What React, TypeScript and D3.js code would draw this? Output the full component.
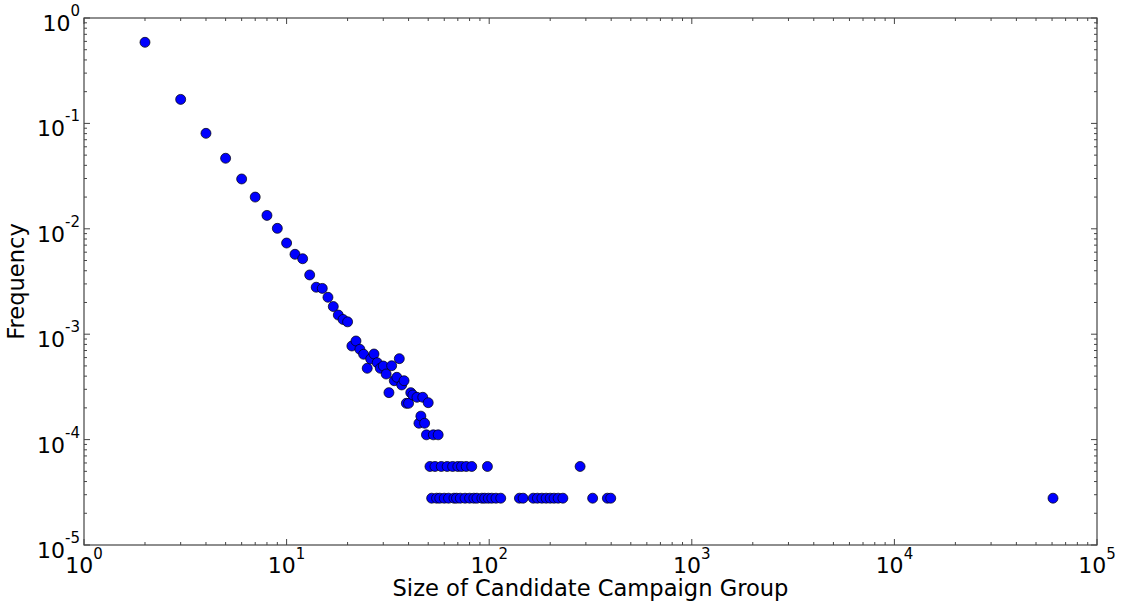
import React from "react";
import * as d3 from "d3";

// Group sizes and their observed frequencies (one entry per size).
const headSizes = [2, 3, 4, 5, 6, 7, 8, 9, 10, 11, 12, 13, 14, 15, 16, 17, 18, 19, 20];
const headFreqs = [
  0.588, 0.169, 0.0805, 0.0467, 0.0297, 0.02, 0.0134, 0.0101, 0.00733, 0.00573,
  0.0052, 0.00365, 0.00279, 0.00272, 0.00224, 0.00183, 0.00152, 0.00138, 0.00131,
];

const midSizes = [
  21, 22, 23, 24, 25, 26, 27, 28, 29, 30, 31, 32, 33, 34, 35, 36, 37, 38, 39, 40,
  41, 42, 44, 45, 46, 47, 48, 50,
];
const midFreqs = [
  7.73e-4, 8.62e-4, 7.19e-4, 6.45e-4, 4.75e-4, 5.82e-4, 6.49e-4, 5.37e-4, 4.75e-4,
  4.99e-4, 4.19e-4, 2.79e-4, 5.02e-4, 3.62e-4, 3.9e-4, 5.86e-4, 3.3e-4, 3.62e-4,
  2.21e-4, 2.21e-4, 2.79e-4, 2.65e-4, 2.52e-4, 1.43e-4, 1.67e-4, 2.52e-4, 1.43e-4,
  2.24e-4,
];

// Sizes seen four, two and one time.
const fourSizes = [49, 53, 56];
const fourFreq = 1.11e-4;
const twoSizes = [51, 54, 58, 62, 66, 70, 73, 77, 82, 98, 281];
const twoFreq = 5.56e-5;
const oneSizes = [
  52, 55, 57, 60, 63, 67, 69, 72, 76, 80, 84, 87, 92, 95, 99, 103, 108, 114, 141,
  147, 165, 173, 182, 191, 200, 209, 219, 231, 324, 383, 398, 60650,
];
const oneFreq = 2.78e-5;

const xDecades = [0, 1, 2, 3, 4, 5];
const yDecades = [0, -1, -2, -3, -4, -5];

const W = 1121;
const H = 603;
const left = 84;
const right = 1097;
const top = 18;
const bottom = 545;

export default function App() {
  const x = d3.scaleLog().domain([1, 1e5]).range([left, right]);
  const y = d3.scaleLog().domain([1e-5, 1]).range([bottom, top]);

  const points: { s: number; f: number }[] = [
    ...headSizes.map((s, i) => ({ s, f: headFreqs[i] })),
    ...midSizes.map((s, i) => ({ s, f: midFreqs[i] })),
    ...fourSizes.map((s) => ({ s, f: fourFreq })),
    ...twoSizes.map((s) => ({ s, f: twoFreq })),
    ...oneSizes.map((s) => ({ s, f: oneFreq })),
  ];

  // Minor tick values within each decade
  const minorX: number[] = [];
  for (let e = 0; e < 5; e++) for (let m = 2; m <= 9; m++) minorX.push(m * Math.pow(10, e));
  const minorY: number[] = [];
  for (let e = -5; e < 0; e++) for (let m = 2; m <= 9; m++) minorY.push(m * Math.pow(10, e));

  const major = 6;
  const minor = 3;
  const tickColor = "#444";
  const font = "DejaVu Sans, sans-serif";

  return (
    <svg
      width={W}
      height={H}
      style={{ position: "absolute", left: 0, top: 0, background: "#fff" }}
      fontFamily={font}
    >
      <rect x={0} y={0} width={W} height={H} fill="#fff" />

      {/* ticks on all four sides, pointing inward */}
      <g stroke={tickColor} strokeWidth={1}>
        {xDecades.map((e) => {
          const px = x(Math.pow(10, e));
          return (
            <g key={"xM" + e}>
              <line x1={px} x2={px} y1={bottom} y2={bottom - major} />
              <line x1={px} x2={px} y1={top} y2={top + major} />
            </g>
          );
        })}
        {minorX.map((v) => {
          const px = x(v);
          return (
            <g key={"xm" + v}>
              <line x1={px} x2={px} y1={bottom} y2={bottom - minor} />
              <line x1={px} x2={px} y1={top} y2={top + minor} />
            </g>
          );
        })}
        {yDecades.map((e) => {
          const py = y(Math.pow(10, e));
          return (
            <g key={"yM" + e}>
              <line x1={left} x2={left + major} y1={py} y2={py} />
              <line x1={right} x2={right - major} y1={py} y2={py} />
            </g>
          );
        })}
        {minorY.map((v) => {
          const py = y(v);
          return (
            <g key={"ym" + v}>
              <line x1={left} x2={left + minor} y1={py} y2={py} />
              <line x1={right} x2={right - minor} y1={py} y2={py} />
            </g>
          );
        })}
      </g>

      {/* scatter points */}
      <g>
        {points.map((p, i) => (
          <circle
            key={i}
            cx={x(p.s)}
            cy={y(p.f)}
            r={5}
            fill="#0000ff"
            stroke="#000"
            strokeWidth={0.7}
          />
        ))}
      </g>

      {/* frame */}
      <rect
        x={left}
        y={top}
        width={right - left}
        height={bottom - top}
        fill="none"
        stroke={tickColor}
        strokeWidth={1.2}
      />

      {/* x tick labels */}
      <g fontSize={22} fill="#000">
        {xDecades.map((e) => (
          <text key={"xl" + e} x={x(Math.pow(10, e))} y={bottom + 28} textAnchor="middle">
            10
            <tspan dy={-14} fontSize={15}>
              {e}
            </tspan>
          </text>
        ))}
      </g>

      {/* y tick labels */}
      <g fontSize={22} fill="#000">
        {yDecades.map((e) => (
          <text key={"yl" + e} x={80} y={y(Math.pow(10, e)) + 13} textAnchor="end">
            10
            <tspan dy={-15} fontSize={15}>
              {e}
            </tspan>
          </text>
        ))}
      </g>

      {/* axis titles */}
      <text x={(left + right) / 2} y={596} textAnchor="middle" fontSize={22.6} fill="#000">
        Size of Candidate Campaign Group
      </text>
      <text
        transform={`translate(24,${(top + bottom) / 2}) rotate(-90)`}
        textAnchor="middle"
        fontSize={22.6}
        fill="#000"
      >
        Frequency
      </text>
    </svg>
  );
}
